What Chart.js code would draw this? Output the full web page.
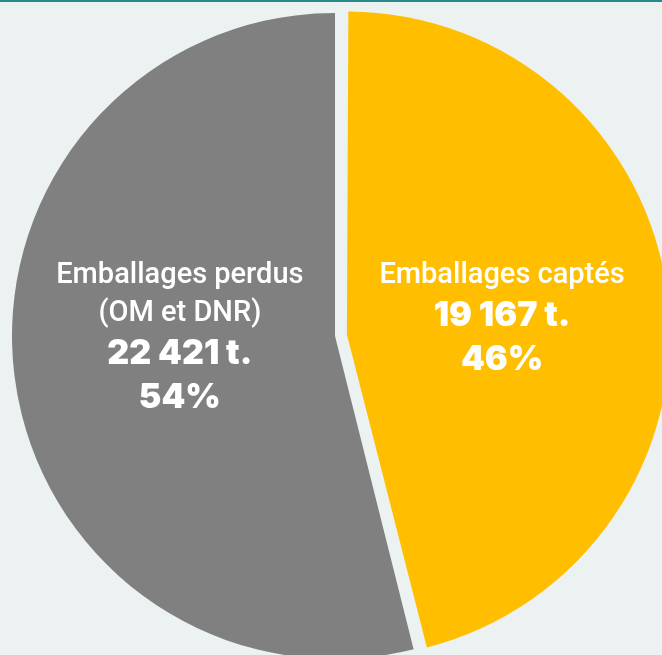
<!DOCTYPE html>
<html lang="fr">
<head>
<meta charset="utf-8">
<title>Emballages captés / perdus</title>
<script src="https://cdn.jsdelivr.net/npm/chart.js@4"></script>
<style>
  html, body { margin: 0; padding: 0; background: #ecf1f1; }
  #wrap { position: relative; width: 662px; height: 655px; overflow: hidden; background: #ecf1f1; }
  #topline { position: absolute; left: 0; top: 0; width: 662px; height: 2px; background: #27898a; z-index: 2; }
  canvas { position: absolute; left: 0; top: 0; }
</style>
</head>
<body>
<div id="wrap">
  <div id="topline"></div>
  <canvas id="pie" width="662" height="655"></canvas>
</div>
<script>
// Tonnages d'emballages (tonnes)
const categories = ['Emballages captés', 'Emballages perdus (OM et DNR)'];
const tonnages = [19167, 22421];
const percents = [46, 54];
// Lignes de texte affichées dans chaque part
const labelLines = [
  ['Emballages captés'],
  ['Emballages perdus', '(OM et DNR)']
];
const colors = ['#ffbf00', '#808080'];
// Décalage (px) de la part détachée
const sliceShift = [12, 0];

const fmtTonnes = v => String(v).replace(/\B(?=(\d{3})+(?!\d))/g, ' ') + ' t.';

// Chart.js agrandit le rayon d'une part décalée : on garde le même rayon pour toutes
const keepRadius = {
  id: 'keepRadius',
  afterDatasetUpdate(chart, args) {
    const meta = chart.getDatasetMeta(args.index);
    meta.data.forEach(arc => {
      const off = (arc.options.offset || 0) / 4;
      const circ = arc.endAngle - arc.startAngle;
      const fix = 1 - Math.sin(Math.min(Math.PI, circ));
      arc.outerRadius -= off * fix;
    });
  }
};

// Étiquettes blanches dessinées dans chaque part
const sliceLabels = {
  id: 'sliceLabels',
  afterDatasetsDraw(chart) {
    const ctx = chart.ctx;
    const meta = chart.getDatasetMeta(0);
    meta.data.forEach((arc, i) => {
      const mid = (arc.startAngle + arc.endAngle) / 2;
      const off = (arc.options.offset || 0) / 4;
      const x = arc.x + Math.cos(mid) * (off + 323 * 0.484);
      let y = arc.y - 53;
      ctx.save();
      ctx.fillStyle = '#ffffff';
      ctx.textAlign = 'center';
      ctx.textBaseline = 'alphabetic';
      ctx.font = '500 29px Roboto, "Liberation Sans", sans-serif';
      labelLines[i].forEach(t => { ctx.fillText(t, x, y); y += 38; });
      y += 5;
      ctx.font = '900 34px Inter, Roboto, sans-serif';
      ctx.fillText(fmtTonnes(tonnages[i]), x, y);
      y += 44;
      ctx.fillText(percents[i] + '%', x, y);
      ctx.restore();
    });
  }
};

new Chart(document.getElementById('pie'), {
  type: 'pie',
  data: {
    labels: categories,
    datasets: [{
      data: tonnages,
      backgroundColor: colors,
      borderWidth: 0,
      offset: sliceShift.map(s => s * 4),
      clip: false
    }]
  },
  options: {
    responsive: false,
    animation: false,
    devicePixelRatio: 1,
    radius: 323,
    layout: { padding: { left: 8, right: 0, top: 17, bottom: 0 } },
    plugins: {
      legend: { display: false },
      tooltip: { enabled: false }
    }
  },
  plugins: [keepRadius, sliceLabels]
});
</script>
</body>
</html>
